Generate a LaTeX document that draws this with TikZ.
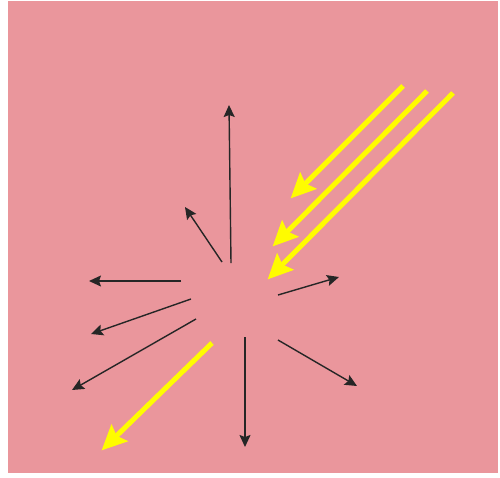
\documentclass[tikz,border=0pt]{standalone}
\usetikzlibrary{arrows.meta}
\definecolor{bgpink}{RGB}{234,150,156}
\definecolor{ray}{RGB}{255,252,0}
\tikzset{
  scat/.style={draw=black!85, line width=1.4pt, -{Stealth[length=12pt,width=11pt,inset=2pt]}},
  beam/.style={draw=ray, line width=5pt, -{Stealth[length=25pt,width=23pt,inset=4pt]}, shorten >=-2pt},
}
\begin{document}
\begin{tikzpicture}[x=1pt,y=-1pt]
\useasboundingbox (0,0) rectangle (500,477);
\fill[white] (0,0) rectangle (500,477);
\fill[bgpink] (8,1) rectangle (498,473);
% incoming beams
\coordinate (y1s) at (403,86);  \coordinate (y1e) at (292,197);
\coordinate (y2s) at (427,91);  \coordinate (y2e) at (274,245);
\coordinate (y3s) at (453,93);  \coordinate (y3e) at (269,278);
\coordinate (y4s) at (212,343); \coordinate (y4e) at (103,449);
\draw[beam] (y1s) -- (y1e);
\draw[beam] (y2s) -- (y2e);
\draw[beam] (y3s) -- (y3e);
\draw[beam] (y4s) -- (y4e);
% scattered rays
\coordinate (a1s) at (231,263); \coordinate (a1e) at (229,105);
\coordinate (a2s) at (222,262); \coordinate (a2e) at (185,207);
\coordinate (a3s) at (181,281); \coordinate (a3e) at (89,281);
\coordinate (a4s) at (191,299); \coordinate (a4e) at (91,334);
\coordinate (a5s) at (196,319); \coordinate (a5e) at (72,390);
\coordinate (a6s) at (245,337); \coordinate (a6e) at (245,447);
\coordinate (a7s) at (278,340); \coordinate (a7e) at (357,386);
\coordinate (a8s) at (278,295); \coordinate (a8e) at (339,277);
\foreach \i in {1,...,8} \draw[scat] (a\i s) -- (a\i e);
\end{tikzpicture}
\end{document}
